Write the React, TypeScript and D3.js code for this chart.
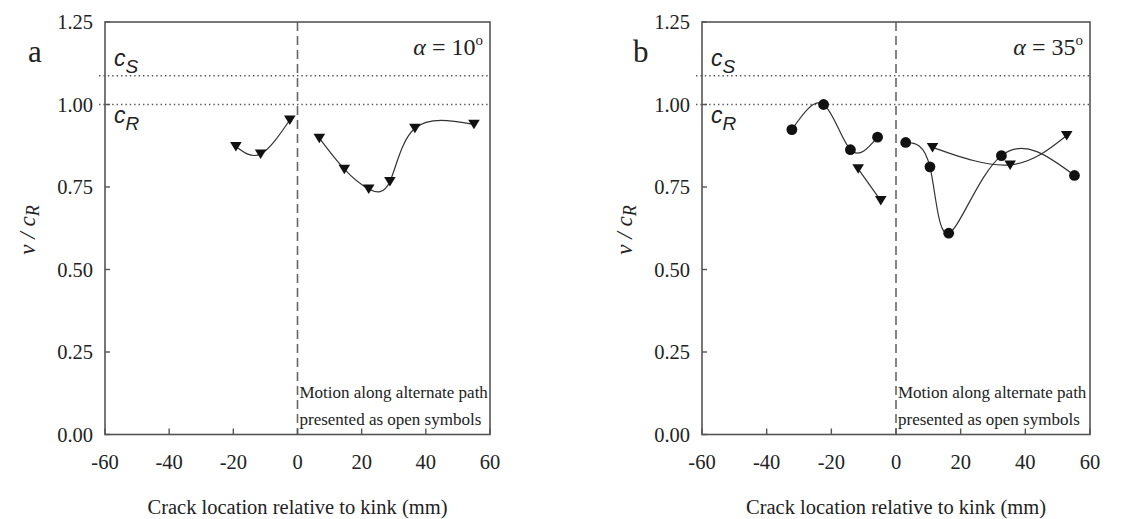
import * as d3 from "d3";

// crack position (mm) and speed v/cR
const xTicks = [-60, -40, -20, 0, 20, 40, 60];
const yTicks = [0, 0.25, 0.5, 0.75, 1.0, 1.25];
const cS = 1.087;
const cR = 1.0;

// panel a, alpha = 10
const aTriLeftX = [-19.2, -11.5, -2.4];
const aTriLeftY = [0.873, 0.85, 0.953];
const aTriRightX = [6.8, 14.6, 22.2, 28.8, 36.6, 55.0];
const aTriRightY = [0.898, 0.804, 0.744, 0.767, 0.928, 0.94];

// panel b, alpha = 35
const bCircLeftX = [-32.2, -22.4, -14.1, -5.7];
const bCircLeftY = [0.924, 1.0, 0.863, 0.901];
const bCircRightX = [3.0, 10.5, 16.3, 32.6, 55.2];
const bCircRightY = [0.885, 0.811, 0.61, 0.845, 0.785];
const bTriLeftX = [-11.7, -4.7];
const bTriLeftY = [0.805, 0.709];
const bTriRightX = [11.3, 35.3, 52.8];
const bTriRightY = [0.87, 0.817, 0.906];

type Series = {
  xs: number[];
  ys: number[];
  marker: "tri" | "circ";
  curve: d3.CurveFactory;
};

const serif = "Liberation Serif, Times New Roman, serif";
const sans = "Liberation Sans, Arial, sans-serif";

type PanelProps = {
  left: number;
  right: number;
  letter: string;
  letterX: number;
  alpha: string;
  series: Series[];
};

const Panel = ({ left, right, letter, letterX, alpha, series }: PanelProps) => {
  const top = 22;
  const bottom = 434.5;
  const x = d3.scaleLinear().domain([-60, 60]).range([left, right]);
  const y = d3.scaleLinear().domain([0, 1.25]).range([bottom, top]);

  return (
    <g>
      {/* reference lines */}
      <line x1={left - 6} x2={right} y1={y(cS)} y2={y(cS)} stroke="#555" strokeWidth={1.4} strokeDasharray="1.4,3" />
      <line x1={left - 6} x2={right} y1={y(cR)} y2={y(cR)} stroke="#555" strokeWidth={1.4} strokeDasharray="1.4,3" />
      <line x1={x(0)} x2={x(0)} y1={top} y2={bottom} stroke="#666" strokeWidth={1.6} strokeDasharray="9,5" />

      {/* frame */}
      <rect x={left} y={top} width={right - left} height={bottom - top} fill="none" stroke="#555" strokeWidth={1.6} />

      {yTicks.map((t) => (
        <g key={"y" + t}>
          <line x1={left} x2={left + 5} y1={y(t)} y2={y(t)} stroke="#555" strokeWidth={1.4} />
          <text x={left - 12} y={y(t) + 7} textAnchor="end" style={{ fontFamily: serif }} fontSize={20.5} fill="#222">
            {t.toFixed(2)}
          </text>
        </g>
      ))}
      {xTicks.map((t) => (
        <g key={"x" + t}>
          <line x1={x(t)} x2={x(t)} y1={bottom} y2={bottom - 6} stroke="#555" strokeWidth={1.4} />
          <text x={x(t)} y={bottom + 34} textAnchor="middle" style={{ fontFamily: serif }} fontSize={20.5} fill="#222">
            {t}
          </text>
        </g>
      ))}

      {series.map((s, i) => {
        const pts: [number, number][] = s.xs.map((v, j) => [x(v), y(s.ys[j])]);
        const path = d3.line().curve(s.curve)(pts) ?? "";
        return (
          <g key={i}>
            <path d={path} fill="none" stroke="#333" strokeWidth={1.2} />
            {pts.map(([px, py], j) =>
              s.marker === "circ" ? (
                <circle key={j} cx={px} cy={py} r={5.4} fill="#111" />
              ) : (
                <path
                  key={j}
                  d={`M${px - 5.8},${py - 4.5}L${px + 5.8},${py - 4.5}L${px},${py + 5}Z`}
                  fill="#111"
                />
              )
            )}
          </g>
        );
      })}

      {/* labels */}
      <text x={letterX} y={62} style={{ fontFamily: serif }} fontSize={31} fill="#222">
        {letter}
      </text>
      <text x={right - 7} y={55} textAnchor="end" style={{ fontFamily: serif }} fontSize={24} fill="#222">
        <tspan fontStyle="italic">α</tspan>
        <tspan> = {alpha}</tspan>
        <tspan fontSize={15} dy={-10}>o</tspan>
      </text>
      <text x={left + 9} y={y(cS) - 10} style={{ fontFamily: sans }} fontStyle="italic" fontSize={23} fill="#222">
        c<tspan fontSize={19} dy={7}>S</tspan>
      </text>
      <text x={left + 9} y={y(cR) + 18} style={{ fontFamily: sans }} fontStyle="italic" fontSize={23} fill="#222">
        c<tspan fontSize={19} dy={7}>R</tspan>
      </text>
      <text x={x(0) + 2} y={398} style={{ fontFamily: serif }} fontSize={17} fill="#222">
        Motion along alternate path
      </text>
      <text x={x(0) + 2} y={425} style={{ fontFamily: serif }} fontSize={17} fill="#222">
        presented as open symbols
      </text>
      <text
        transform={`translate(${left - 70},230) rotate(-90)`}
        textAnchor="middle"
        style={{ fontFamily: serif }}
        fontSize={23}
        fill="#222"
        fontStyle="italic"
      >
        v / c<tspan fontSize={18} dy={4}>R</tspan>
      </text>
      <text x={(left + right) / 2} y={514} textAnchor="middle" style={{ fontFamily: serif }} fontSize={20.5} fill="#222">
        Crack location relative to kink (mm)
      </text>
    </g>
  );
};

export default function App() {
  const seriesA: Series[] = [
    { xs: aTriLeftX, ys: aTriLeftY, marker: "tri", curve: d3.curveNatural },
    { xs: aTriRightX, ys: aTriRightY, marker: "tri", curve: d3.curveNatural },
  ];
  const seriesB: Series[] = [
    { xs: bCircLeftX, ys: bCircLeftY, marker: "circ", curve: d3.curveNatural },
    { xs: bCircRightX, ys: bCircRightY, marker: "circ", curve: d3.curveNatural },
    { xs: bTriLeftX, ys: bTriLeftY, marker: "tri", curve: d3.curveLinear },
    { xs: bTriRightX, ys: bTriRightY, marker: "tri", curve: d3.curveNatural },
  ];
  return (
    <div style={{ position: "absolute", left: 0, top: 0 }}>
      <svg width={1136} height={519} style={{ display: "block", background: "#fff" }}>
        <Panel left={105} right={490} letter="a" letterX={28} alpha="10" series={seriesA} />
        <Panel left={702} right={1090} letter="b" letterX={633} alpha="35" series={seriesB} />
      </svg>
    </div>
  );
}
